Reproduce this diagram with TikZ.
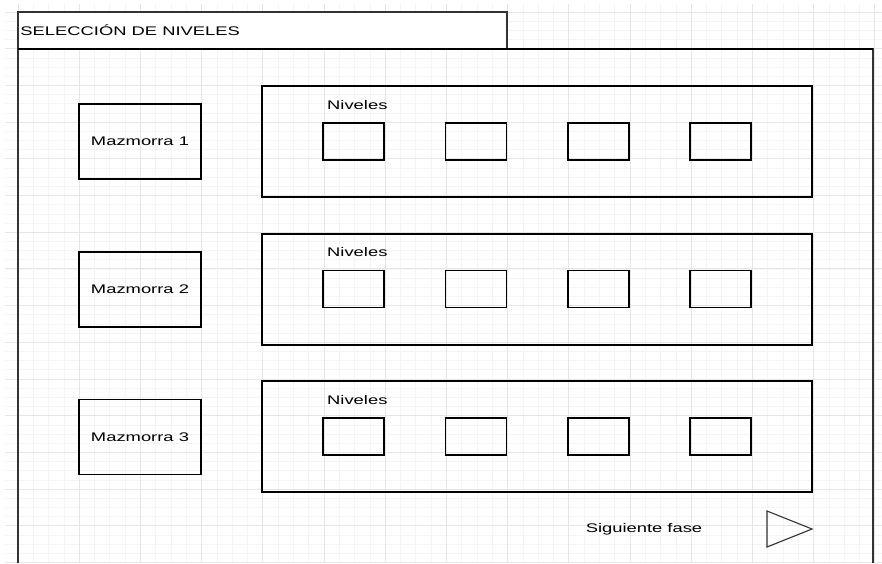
\documentclass[tikz,border=0pt]{standalone}
\usepackage{fontspec}
\newfontfamily\widesans[FakeStretch=1.47]{Liberation Sans}
\usepackage{tikz}
\usetikzlibrary{positioning}

\definecolor{gridmajor}{HTML}{E6E6E6}
\definecolor{gridminor}{HTML}{F4F4F4}
\definecolor{framegray}{HTML}{333333}

\tikzset{
  lbl/.style={inner sep=0pt,font=\widesans\fontsize{12.5}{15}\selectfont},
  box/.style={draw=black,line width=1.1pt,inner sep=0pt},
  mazbox/.style={box,minimum width=122pt,minimum height=75pt,font=\widesans\fontsize{12.5}{15}\selectfont},
  panel/.style={box,minimum width=550pt,minimum height=111pt},
  lvl/.style={box,minimum width=61pt,minimum height=37pt}
}

\begin{document}
\begin{tikzpicture}[x=1pt,y=-1pt]
\useasboundingbox (0,0) rectangle (882,563);
\fill[white] (0,0) rectangle (882,563);
% grid
\begin{scope}[shift={(18,12)}]
\draw[gridminor,line width=0.7pt,xstep=15.3pt,ystep=9.175pt] (-13,-8) grid (864,551);
\draw[gridmajor,line width=1pt,xstep=61.2pt,ystep=36.7pt] (-13,-8) grid (864,551);
\end{scope}
% window
\node[box,draw=framegray,fill=white,line width=1.6pt,minimum width=489pt,minimum height=37pt] (tab) at (262.5,30.5) {};
\node[lbl,anchor=west,right=3pt of tab.west] (title) {SELECCIÓN DE NIVELES};
\coordinate (fbl) at (18,563);
\coordinate (ftl) at (18,49);
\coordinate (ftr) at (873,49);
\coordinate (fbr) at (873,563);
\draw[framegray,line width=1.6pt] (fbl) -- (ftl) -- (ftr) -- (fbr);
\draw[black,line width=1.1pt] (ftl) -- (ftr);

% mazmorras
\node[mazbox] (mazA) at (140,141.5) {Mazmorra 1};
\node[mazbox] (mazB) at (140,289.5) {Mazmorra 2};
\node[mazbox] (mazC) at (140,437) {Mazmorra 3};

% niveles
\node[panel] (panelA) at (537,141.5) {};
\node[panel] (panelB) at (537,289.5) {};
\node[panel] (panelC) at (537,436.5) {};
\node[lbl,anchor=west] (nivA) at (327,105) {Niveles};
\node[lbl,anchor=west] (nivB) at (327,252.5) {Niveles};
\node[lbl,anchor=west] (nivC) at (327,400) {Niveles};

\node[lvl] (lvlA1) at (353.5,141.5) {};
\node[lvl] (lvlA2) at (476,141.5) {};
\node[lvl] (lvlA3) at (598.5,141.5) {};
\node[lvl] (lvlA4) at (720.5,141.5) {};
\node[lvl] (lvlB1) at (353.5,289) {};
\node[lvl] (lvlB2) at (476,289) {};
\node[lvl] (lvlB3) at (598.5,289) {};
\node[lvl] (lvlB4) at (720.5,289) {};
\node[lvl] (lvlC1) at (353.5,436.5) {};
\node[lvl] (lvlC2) at (476,436.5) {};
\node[lvl] (lvlC3) at (598.5,436.5) {};
\node[lvl] (lvlC4) at (720.5,436.5) {};

% siguiente fase
\node[lbl] (next) at (644,529) {Siguiente fase};
\draw[framegray,line width=1.1pt,line join=miter] (767,511) -- (812,529) -- (767,547) -- cycle;
\end{tikzpicture}
\end{document}
